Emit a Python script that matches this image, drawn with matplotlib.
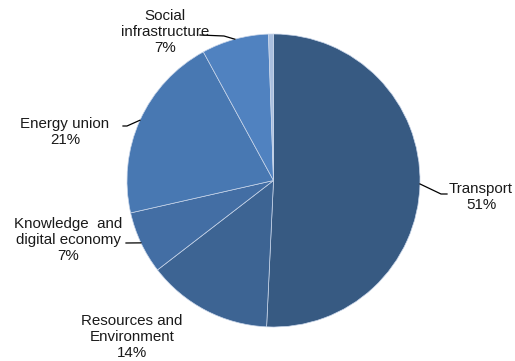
import numpy as np
import matplotlib.pyplot as plt

plt.rcParams['font.family'] = ['Liberation Sans', 'DejaVu Sans']

# shares in %, clockwise from 12 o'clock
sectors = ['Transport', 'Resources and\nEnvironment', 'Knowledge  and\ndigital economy',
           'Energy union', 'Social\ninfrastructure', 'Other']
shares = [50.75, 13.8, 6.9, 20.6, 7.4, 0.55]
pct_labels = ['51%', '14%', '7%', '21%', '7%', '']
colors = ['#375a82', '#3d6493', '#436ea4', '#4878b2', '#5082c0', '#a9bfdf']

# label anchor (pixel coords, y up) and leader line waypoints
label_pos = [(481, 164), (132, 24), (68, 121), (65, 229), (165, 329), None]
leader_pts = [[(441, 167), (447, 167)], None, [(126, 118)], [(127, 235), (123, 235)],
              [(224, 325), (200, 326)], None]

fig = plt.figure(figsize=(5.15, 3.61), dpi=100)
ax = fig.add_axes([0, 0, 1, 1])

cx, cy, r = 273.5, 180.5, 146.5
wedges, _ = ax.pie(shares, colors=colors, startangle=90, counterclock=False,
                   center=(cx, cy), radius=r, frame=True,
                   wedgeprops=dict(edgecolor='#c9d6ea', linewidth=0.5))
ax.set_xlim(0, 515)
ax.set_ylim(0, 361)
ax.set_aspect('equal')
ax.axis('off')

for w, name, pct, pos, pts in zip(wedges, sectors, pct_labels, label_pos, leader_pts):
    if pos is None:
        continue
    txt = name + '\n' + pct
    ax.text(pos[0], pos[1], txt, ha='center', va='center', fontsize=10.9,
            color='#1a1a1a', linespacing=1.22)
    if pts:
        mid = np.deg2rad((w.theta1 + w.theta2) / 2)
        edge = (cx + r * np.cos(mid), cy + r * np.sin(mid))
        xs = [edge[0]] + [p[0] for p in pts]
        ys = [edge[1]] + [p[1] for p in pts]
        ax.plot(xs, ys, color='black', lw=0.9)

fig.savefig('out.png', dpi=100)
